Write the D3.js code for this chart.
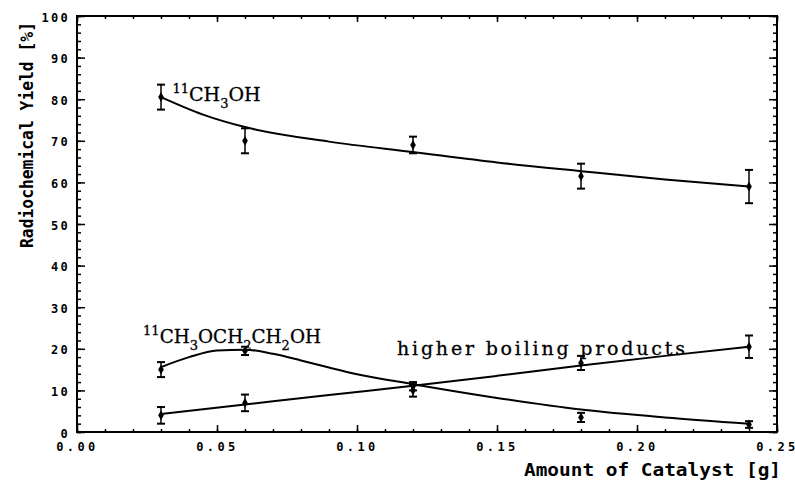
<!DOCTYPE html>
<html>
<head>
<meta charset="utf-8">
<script src="https://cdn.jsdelivr.net/npm/d3@7"></script>
<style>
    body { margin: 0; background: #fff; }
    .tickLabel { font-family: "DejaVu Sans Mono", monospace; font-weight: bold; font-size: 12px; fill: #000; }
    .axisTitle { font-family: "DejaVu Sans Mono", monospace; font-weight: bold; font-size: 17px; fill: #000; }
    .chemLabel { font-family: "DejaVu Serif", "Liberation Serif", serif; font-size: 19px; fill: #000; stroke: #000; stroke-width: 0.3px; }
</style>
</head>
<body>
<script>
(function() {

    //measured catalyst amounts [g]
    var catalyst = [0.03, 0.06, 0.12, 0.18, 0.24];

    //radiochemical yields [%] with error bar half-widths
    var methanol = [80.5, 70, 69, 61.5, 59];
    var methanolErr = [3, 3, 2, 3, 4];
    var ether = [15, 19.5, 10, 3.5, 1.8];
    var etherErr = [1.8, 1, 1.5, 1.1, 0.8];
    var higher = [4, 7, 11, 16.6, 20.5];
    var higherErr = [2, 2, 1, 1.7, 2.7];

    //fitted curves
    var methanolFitX = [0.03, 0.045, 0.06, 0.09, 0.12, 0.15, 0.18, 0.21, 0.24];
    var methanolFit = [80.5, 76.3, 73.3, 69.8, 67.3, 64.8, 62.7, 60.7, 59.0];
    var etherFitX = [0.03, 0.04, 0.05, 0.06, 0.07, 0.08, 0.09, 0.10, 0.12, 0.15, 0.18, 0.21, 0.24];
    var etherFit = [15.6, 18.0, 19.6, 19.8, 18.8, 17.2, 15.5, 13.9, 11.5, 8.2, 5.4, 3.5, 2.0];
    var higherFitX = [0.03, 0.06, 0.09, 0.12, 0.15, 0.18, 0.21, 0.24];
    var higherFit = [4.3, 6.6, 8.9, 11.1, 13.5, 16.0, 18.3, 20.5];

    //axis ticks
    var xTicks = [0, 0.05, 0.10, 0.15, 0.20, 0.25];
    var yTicks = [0, 10, 20, 30, 40, 50, 60, 70, 80, 90, 100];

    //frame dimensions
    var width = 795, height = 481;
    var left = 77, top = 16, right = 777, bottom = 432;

    var svg = d3.select("body")
        .append("svg")
        .attr("width", width)
        .attr("height", height);

    var x = d3.scaleLinear().domain([0, 0.25]).range([left, right]);
    var y = d3.scaleLinear().domain([0, 100]).range([bottom, top]);

    //minor ticks
    var xMinor = d3.range(0, 0.2501, 0.01);
    var yMinor = d3.range(0, 101, 2);

    function placeAxis(axis, translate) {
        var g = svg.append("g")
            .attr("transform", translate)
            .call(axis);
        g.select(".domain").remove();
        g.selectAll("line").attr("stroke", "#000").attr("stroke-width", 1.5);
        return g;
    }

    //minor ticks on all four sides
    placeAxis(d3.axisLeft(y).tickValues(yMinor).tickSize(-4).tickFormat(""), "translate(" + left + ",0)");
    placeAxis(d3.axisRight(y).tickValues(yMinor).tickSize(-4).tickFormat(""), "translate(" + right + ",0)");
    placeAxis(d3.axisBottom(x).tickValues(xMinor).tickSize(-3).tickFormat(""), "translate(0," + bottom + ")");
    placeAxis(d3.axisTop(x).tickValues(xMinor).tickSize(-3).tickFormat(""), "translate(0," + top + ")");

    //major ticks with labels
    var yAxis = placeAxis(d3.axisLeft(y).tickValues(yTicks).tickSize(-8).tickPadding(7).tickFormat(d3.format("d")),
        "translate(" + left + ",0)");
    yAxis.selectAll("text").attr("class", "tickLabel").attr("letter-spacing", 2.3).attr("dy", "0.42em");

    var xAxis = placeAxis(d3.axisBottom(x).tickValues(xTicks).tickSize(-7).tickPadding(10).tickFormat(d3.format(".2f")),
        "translate(0," + bottom + ")");
    xAxis.selectAll("text").attr("class", "tickLabel").attr("letter-spacing", 3.4);

    placeAxis(d3.axisRight(y).tickValues(yTicks).tickSize(-8).tickFormat(""), "translate(" + right + ",0)");
    placeAxis(d3.axisTop(x).tickValues(xTicks).tickSize(-6).tickFormat(""), "translate(0," + top + ")");

    //frame
    svg.append("rect")
        .attr("x", left)
        .attr("y", top)
        .attr("width", right - left)
        .attr("height", bottom - top)
        .attr("fill", "none")
        .attr("stroke", "#000")
        .attr("stroke-width", 2);

    //axis titles
    svg.append("text")
        .attr("class", "axisTitle")
        .attr("transform", "translate(33," + 135 + ") rotate(-90)")
        .attr("text-anchor", "middle")
        .attr("textLength", 226)
        .attr("lengthAdjust", "spacingAndGlyphs")
        .text("Radiochemical Yield [%]");

    svg.append("text")
        .attr("class", "axisTitle")
        .attr("x", 524)
        .attr("y", 476)
        .attr("textLength", 257)
        .attr("lengthAdjust", "spacingAndGlyphs")
        .text("Amount of Catalyst [g]");

    //fitted curves
    var line = d3.line()
        .x(function(d) { return x(d[0]); })
        .y(function(d) { return y(d[1]); })
        .curve(d3.curveMonotoneX);

    [[methanolFitX, methanolFit], [etherFitX, etherFit], [higherFitX, higherFit]].forEach(function(f) {
        svg.append("path")
            .datum(d3.zip(f[0], f[1]))
            .attr("d", line)
            .attr("fill", "none")
            .attr("stroke", "#000")
            .attr("stroke-width", 2);
    });

    //data points with error bars
    var diamond = d3.symbol().type(d3.symbolDiamond).size(28);

    function drawSeries(values, errs) {
        var data = catalyst.map(function(c, i) { return { c: c, v: values[i], e: errs[i] }; });
        var g = svg.append("g");
        var pts = g.selectAll(".pt")
            .data(data)
            .enter()
            .append("g")
            .attr("class", "pt");
        pts.append("line")
            .attr("x1", function(d) { return x(d.c); })
            .attr("x2", function(d) { return x(d.c); })
            .attr("y1", function(d) { return y(d.v + d.e); })
            .attr("y2", function(d) { return y(d.v - d.e); })
            .attr("stroke", "#000")
            .attr("stroke-width", 1.5);
        [1, -1].forEach(function(s) {
            pts.append("line")
                .attr("x1", function(d) { return x(d.c) - 4; })
                .attr("x2", function(d) { return x(d.c) + 4; })
                .attr("y1", function(d) { return y(d.v + s * d.e); })
                .attr("y2", function(d) { return y(d.v + s * d.e); })
                .attr("stroke", "#000")
                .attr("stroke-width", 2);
        });
        pts.append("path")
            .attr("d", diamond)
            .attr("transform", function(d) { return "translate(" + x(d.c) + "," + y(d.v) + ")"; })
            .attr("fill", "#000");
    }

    drawSeries(methanol, methanolErr);
    drawSeries(ether, etherErr);
    drawSeries(higher, higherErr);

    //chemical formula labels with super/subscripts
    function chemLabel(parts, px, py, size) {
        var t = svg.append("text")
            .attr("class", "chemLabel")
            .attr("x", px)
            .attr("y", py);
        var shift = 0;
        parts.forEach(function(p) {
            var target = p[1] === "sup" ? -8 : (p[1] === "sub" ? 7 : 0);
            t.append("tspan")
                .attr("dy", target - shift)
                .attr("font-size", p[1] === "norm" ? size : 13)
                .text(p[0]);
            shift = target;
        });
    }

    chemLabel([["11", "sup"], ["CH", "norm"], ["3", "sub"], ["OH", "norm"]], x(0.0341), y(79.5), 19);
    chemLabel([["11", "sup"], ["CH", "norm"], ["3", "sub"], ["OCH", "norm"], ["2", "sub"], ["CH", "norm"], ["2", "sub"], ["OH", "norm"]],
        x(0.0236), y(21.4), 18.4);

    svg.append("text")
        .attr("class", "chemLabel")
        .attr("x", 397)
        .attr("y", y(18.5))
        .attr("font-size", 19)
        .attr("stroke-width", 0.15)
        .attr("textLength", 288)
        .attr("lengthAdjust", "spacing")
        .text("higher boiling products");

})();
</script>
</body>
</html>
